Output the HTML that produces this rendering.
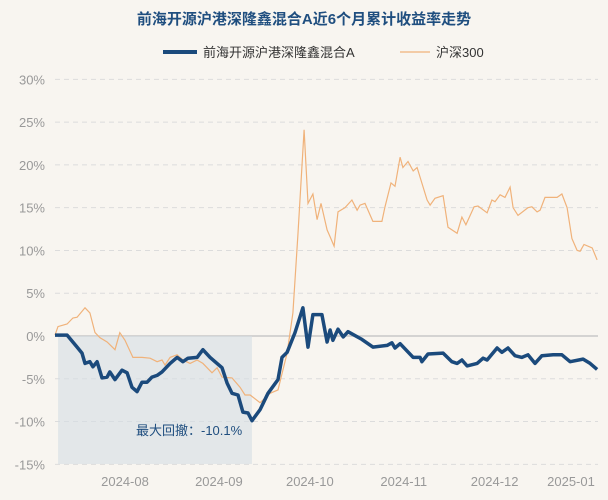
<!DOCTYPE html>
<html><head><meta charset="utf-8"><style>
html,body{margin:0;padding:0;background:#f8f5f0;}
svg{display:block;font-family:"Liberation Sans","Noto Sans CJK SC",sans-serif;}
</style></head><body>
<svg id="c" width="608" height="500" xmlns="http://www.w3.org/2000/svg">
<rect width="608" height="500" fill="#f8f5f0"/>
<text x="304" y="24" text-anchor="middle" font-size="15" font-weight="bold" fill="#1f4e7f">前海开源沪港深隆鑫混合A近6个月累计收益率走势</text>
<g>
<line x1="163" y1="52" x2="197" y2="52" stroke="#1b4a7c" stroke-width="4"/>
<text x="203" y="57" font-size="13" fill="#333">前海开源沪港深隆鑫混合A</text>
<line x1="400" y1="52" x2="430" y2="52" stroke="#f0b27a" stroke-width="1.2"/>
<text x="436" y="57" font-size="13" fill="#333">沪深300</text>
</g>
<g id="grid"></g><g id="area"></g><g id="lines"></g><g id="axes"></g>
</svg>
<script>
const yTicks=[30,25,20,15,10,5,0,-5,-10,-15];
const xTickDays=[31,62,92,123,153,184];
const xTickLabels=["2024-08","2024-09","2024-10","2024-11","2024-12","2025-01"];
const fundDays=[7.9,11.9,15.2,16.8,17.8,19.4,20.4,21.8,23.4,25.1,26.0,27.7,30.0,31.7,33.3,35.0,36.6,38.3,39.9,41.6,43.2,45.9,48.2,50.1,51.8,54.8,56.7,59.1,60.7,63.0,64.7,66.3,68.3,69.9,71.6,72.9,75.6,78.2,81.5,82.8,84.5,87.1,89.7,91.4,93.0,96.0,97.7,98.7,99.6,101.3,103.0,104.6,109.2,112.8,117.5,119.1,120.1,121.8,126.1,128.4,129.0,131.0,136.0,138.9,140.6,142.2,143.9,147.2,149.2,150.5,153.8,155.4,157.4,159.7,162.0,164.0,166.3,168.6,172.3,175.2,177.9,182.2,184.5,186.8];
const fundValues=[0.1,0.1,-1.3,-2.0,-3.2,-3.0,-3.6,-3.0,-4.9,-4.8,-4.2,-5.1,-4.0,-4.3,-6.0,-6.5,-5.4,-5.4,-4.8,-4.6,-4.2,-3.2,-2.5,-3.0,-2.6,-2.5,-1.6,-2.5,-3.0,-3.7,-5.5,-6.7,-6.9,-8.9,-9.0,-9.9,-8.6,-6.7,-5.1,-2.5,-1.9,0.4,3.3,-1.3,2.5,2.5,-0.7,0.7,-0.5,0.8,-0.1,0.5,-0.4,-1.3,-1.1,-0.8,-1.4,-0.9,-2.5,-2.5,-3.0,-2.1,-2.0,-3.0,-3.2,-2.8,-3.5,-3.2,-2.6,-2.8,-1.4,-1.9,-1.4,-2.3,-2.5,-2.2,-3.2,-2.3,-2.2,-2.2,-3.0,-2.7,-3.2,-3.9];
const hsDays=[7.9,8.9,11.9,13.8,15.2,17.8,19.4,21.1,22.7,25.1,27.7,29.3,31.0,33.6,36.6,39.3,41.6,43.2,44.2,45.9,48.2,50.1,52.5,54.8,56.7,59.7,61.4,63.0,66.3,69.0,70.6,72.3,75.6,78.9,81.5,84.5,86.4,88.1,90.1,91.4,93.0,94.4,95.7,97.7,98.7,100.0,101.3,103.6,105.9,107.6,108.6,110.2,112.8,115.8,116.8,118.8,120.1,121.8,122.7,124.4,126.1,127.4,130.7,131.7,133.3,136.0,137.6,140.6,142.2,143.5,146.2,147.5,150.5,152.1,153.1,154.8,156.4,158.1,159.1,160.7,164.0,165.3,167.0,168.0,169.6,173.6,175.2,176.9,178.5,180.2,181.2,182.5,185.2,186.8];
const hsValues=[0.1,1.1,1.4,2.1,2.2,3.3,2.7,0.4,-0.2,-0.7,-1.6,0.4,-0.5,-2.5,-2.5,-2.6,-3.0,-2.8,-3.4,-2.5,-2.2,-2.8,-3.2,-2.8,-3.2,-4.3,-3.7,-4.8,-4.9,-6.0,-6.9,-6.9,-7.8,-6.7,-6.3,-2.0,2.7,12.0,24.1,15.5,16.6,13.6,15.5,12.4,11.6,10.5,14.5,15.0,15.9,14.7,15.3,15.5,13.4,13.4,15.1,17.9,17.5,20.9,19.7,20.4,19.3,19.7,15.9,15.3,16.1,16.4,12.7,12.0,13.9,13.0,15.1,15.2,14.4,15.9,15.7,16.5,16.2,17.4,15.0,14.1,15.0,15.1,14.5,14.7,16.2,16.2,16.6,15.0,11.4,10.0,9.9,10.7,10.3,8.9];
const drawdownStartDay=8.9, drawdownEndDay=72.9, drawdownLabel="最大回撤：-10.1%";

const NS="http://www.w3.org/2000/svg";
const X0=55,X1=598,Y0=79,Y1=464;
function xs(d){return 125+(d-31)*3.03;}
function ys(v){return 336-v*(Y1-Y0)/45;}
function mk(tag,attrs,parent){const e=document.createElementNS(NS,tag);for(const k in attrs)e.setAttribute(k,attrs[k]);parent.appendChild(e);return e;}
const grid=document.getElementById('grid'),area=document.getElementById('area'),lines=document.getElementById('lines'),axes=document.getElementById('axes');
yTicks.forEach(t=>{
  const l=mk('line',{x1:X0,x2:X1,y1:ys(t),y2:ys(t),stroke:t===0?'#c8c8c8':'#dcdcdc','stroke-width':t===0?1.5:1,'stroke-dasharray':t===0?'':'5,4'},grid);
  
  
  const tx=mk('text',{x:45,y:ys(t)+5,'text-anchor':'end','font-size':13,fill:'#999'},axes);
  tx.textContent=t+'%';
  
  
});
xTickDays.forEach((d,i)=>{
  let cx=xs(d);const half=27;if(cx+half>X1)cx=X1-half;
  const tx=mk('text',{x:cx,y:486,'text-anchor':'middle','font-size':13,fill:'#999'},axes);
  tx.textContent=xTickLabels[i];
  
  
});
const dd=mk('rect',{x:xs(drawdownStartDay),y:ys(0),width:xs(drawdownEndDay)-xs(drawdownStartDay),height:Y1-ys(0),fill:'#d5dde5',opacity:0.6},area);


const ddt=mk('text',{x:136,y:435,'font-size':13,fill:'#1f4e7f'},area);
ddt.textContent=drawdownLabel;


function path(days,vals){return days.map((d,i)=>(i?'L':'M')+xs(d).toFixed(1)+','+ys(vals[i]).toFixed(1)).join('');}
const hp=mk('path',{d:path(hsDays,hsValues),fill:'none',stroke:'#f0b27a','stroke-width':1.2},lines);


const fp=mk('path',{d:path(fundDays,fundValues),fill:'none',stroke:'#1b4a7c','stroke-width':3.5,'stroke-linejoin':'round'},lines);


</script>
</body></html>
